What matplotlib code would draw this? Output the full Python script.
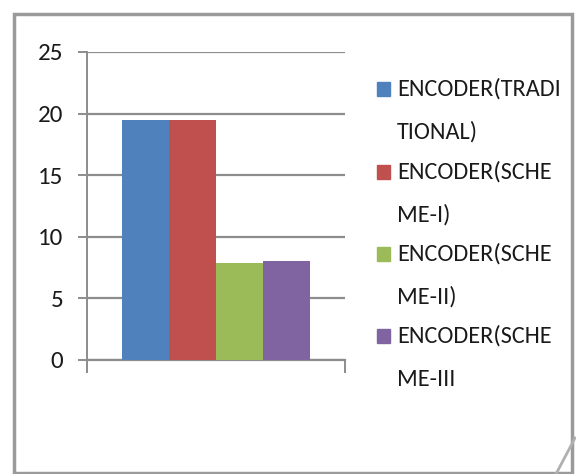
import matplotlib
matplotlib.use("Agg")
from matplotlib import pyplot as plt
from matplotlib.patches import Rectangle
from matplotlib.lines import Line2D

plt.rcParams['font.family'] = ['Carlito', 'DejaVu Sans']

# data
series = ["ENCODER(TRADI\nTIONAL)", "ENCODER(SCHE\nME-I)",
          "ENCODER(SCHE\nME-II)", "ENCODER(SCHE\nME-III"]
values = [19.5, 19.5, 7.85, 8.0]
colors = ["#4F81BD", "#C0504D", "#9BBB59", "#8064A2"]
yticks = [0, 5, 10, 15, 20, 25]

W, H = 576, 474
fig = plt.figure(figsize=(W / 100, H / 100), dpi=100)
ax = fig.add_axes([87 / W, 1 - 360 / H, (345 - 87) / W, (360 - 52) / H])

bar_w = 0.182
offsets = [(i - 1.5) * bar_w for i in range(len(values))]
for off, v, c in zip(offsets, values, colors):
    ax.bar(off, v, width=bar_w, color=c, zorder=3)

grid_c = "#8c8c8c"
ax.set_xlim(-0.5, 0.5)
ax.set_ylim(0, 25)
ax.set_yticks(yticks)
ax.set_yticklabels([str(t) for t in yticks], fontsize=18, color="#1a1a1a")
ax.set_xticks([-0.5, 0.5])
ax.set_xticklabels([])
ax.yaxis.grid(True, color=grid_c, linewidth=1.6, zorder=0)
ax.tick_params(axis="y", length=6.5, width=1.4, color=grid_c, pad=10.5)
ax.tick_params(axis="x", length=9, width=1.4, color=grid_c)
for s in ["top", "right"]:
    ax.spines[s].set_visible(False)
ax.spines["left"].set_color(grid_c)
ax.spines["left"].set_linewidth(1.4)
ax.spines["bottom"].set_color(grid_c)
ax.spines["bottom"].set_linewidth(1.6)

# legend drawn by hand, Excel style with wrapped labels
first_rows = [89, 172, 254, 336]
for lab, c, y in zip(series, colors, first_rows):
    fig.patches.append(Rectangle((377 / W, 1 - (y + 7) / H), 13 / W, 14 / H,
                                 transform=fig.transFigure, color=c))
    for k, line in enumerate(lab.split("\n")):
        fig.text(397 / W, 1 - (y + 43 * k) / H, line, fontsize=17.5,
                 color="#1a1a1a", va="center", ha="left")

# chart border and page-curl mark
fig.patches.append(Rectangle((14 / W, 1 / H), (572 - 14) / W, (472 - 13) / H,
                             transform=fig.transFigure, fill=False,
                             edgecolor="#9a9a9a", linewidth=2.5))
fig.lines.append(Line2D([556 / W, 575 / W], [0, 36 / H],
                        transform=fig.transFigure, color="#b0b0b0", linewidth=2))

fig.savefig("out.png", dpi=100)
